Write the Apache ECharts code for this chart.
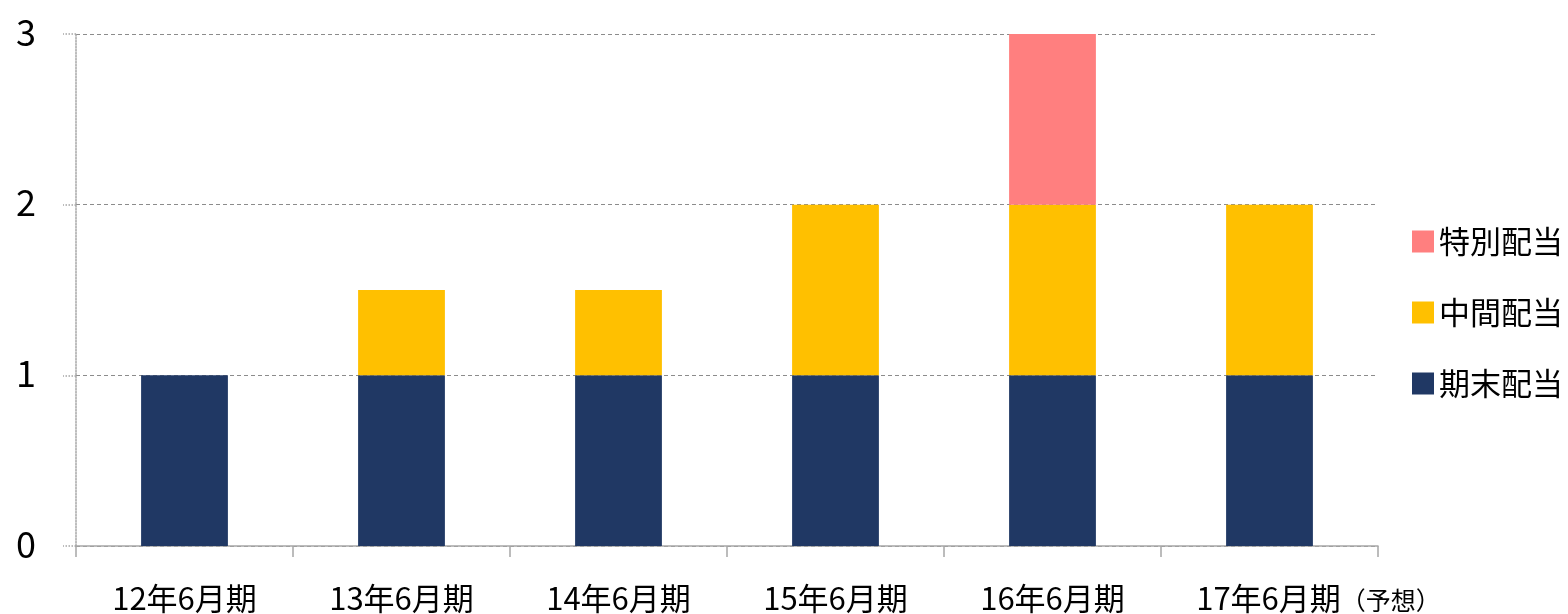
<!DOCTYPE html>
<html>
<head>
<meta charset="utf-8">
<script src="https://cdn.jsdelivr.net/npm/echarts@6/dist/echarts.min.js"></script>
<style>
html, body { margin: 0; padding: 0; background: #fff; }
#chart { width: 1568px; height: 614px; }
</style>
</head>
<body>
<div id="chart"></div>
<script>
var categories = ['12年6月期', '13年6月期', '14年6月期', '15年6月期', '16年6月期', '17年6月期（予想）'];
var kimatsu = [1, 1, 1, 1, 1, 1];
var chukan = [null, 0.5, 0.5, 1, 1, 1];
var tokubetsu = [null, null, null, null, 1, null];
var yTicks = [0, 1, 2, 3];

var font = '"Noto Sans CJK JP", "Noto Sans", sans-serif';
var chart = echarts.init(document.getElementById('chart'));

option = {
    animation: false,
    textStyle: { fontFamily: font },
    grid: {
        left: 76,
        right: 190,
        top: 34,
        bottom: 66
    },
    legend: {
        orient: 'vertical',
        right: 0,
        top: 221,
        itemWidth: 22,
        itemHeight: 22,
        itemGap: 40,
        icon: 'rect',
        data: ['特別配当', '中間配当', '期末配当'],
        textStyle: { fontSize: 31, color: '#000', fontFamily: font }
    },
    xAxis: {
        type: 'category',
        data: categories,
        axisLine: { lineStyle: { color: '#a6a6a6', width: 1.5 } },
        axisTick: { show: true, interval: 0, length: 11, lineStyle: { color: '#a6a6a6', width: 1.5 } },
        axisLabel: {
            interval: 0,
            margin: 37,
            fontSize: 31,
            color: '#000',
            fontFamily: font,
            formatter: function (v) {
                var i = v.indexOf('（');
                if (i >= 0) {
                    return '{p|}' + v.slice(0, i) + '{s|' + v.slice(i) + '}';
                }
                return v;
            },
            rich: {
                p: { width: 98 },
                s: { fontSize: 25, color: '#000', fontFamily: font, padding: [3, 0, 0, 0] }
            }
        }
    },
    yAxis: {
        type: 'value',
        min: yTicks[0],
        max: yTicks[yTicks.length - 1],
        interval: 1,
        axisLine: { show: true, lineStyle: { color: '#a6a6a6', type: 'dotted', width: 1.5 } },
        axisTick: { show: true, length: 13, lineStyle: { color: '#a6a6a6', type: 'dotted', width: 1.5 } },
        axisLabel: { margin: 40, fontSize: 36, color: '#000', fontFamily: font, verticalAlign: 'bottom', padding: [0, 0, -16, 0] },
        splitLine: { lineStyle: { color: '#8c8c8c', type: [4, 3], width: 1 } }
    },
    series: [
        {
            name: '期末配当',
            type: 'bar',
            stack: 'd',
            barWidth: '40%',
            itemStyle: { color: '#203864' },
            data: kimatsu
        },
        {
            name: '中間配当',
            type: 'bar',
            stack: 'd',
            itemStyle: { color: '#ffc000' },
            data: chukan
        },
        {
            name: '特別配当',
            type: 'bar',
            stack: 'd',
            itemStyle: { color: '#ff7f7f' },
            data: tokubetsu
        }
    ]
};

chart.setOption(option);
</script>
</body>
</html>
